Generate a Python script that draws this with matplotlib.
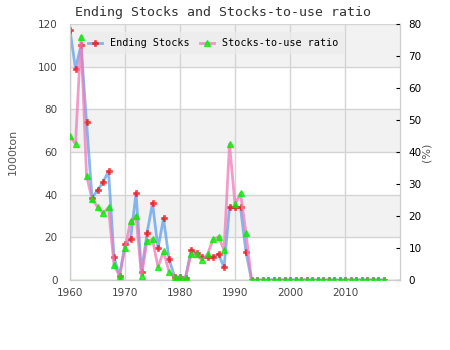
import matplotlib
matplotlib.use('Agg')
import matplotlib.pyplot as plt

# dados (1960-2017)
anos = list(range(1960, 2018))
estoque = [117, 99, 110, 74, 38.5, 42, 45.8, 51, 10.6, 1.9,
           16.7, 19, 40.6, 3.9, 22, 36, 14.8, 28.9, 9.8, 1.6,
           1.4, 1.1, 14, 12.5, 10.6, 10.6, 10.6, 12.2, 5.9, 34,
           34, 34, 13, 0, 0, 0, 0, 0, 0, 0,
           0, 0, 0, 0, 0, 0, 0, 0, 0, 0,
           0, 0, 0, 0, 0, 0, 0, 0]
razao = [45, 42.5, 76, 32.6, 25.3, 22.9, 20.8, 22.7, 4.6, 1.3,
         9.9, 18.3, 19.9, 1.3, 12.2, 12.7, 4.0, 9.0, 2.6, 0.9,
         0.9, 0.7, 8.0, 8.0, 6.25, 8.0, 12.7, 13.5, 9.4, 42.5,
         23.6, 27.1, 14.6, 0, 0, 0, 0, 0, 0, 0,
         0, 0, 0, 0, 0, 0, 0, 0, 0, 0,
         0, 0, 0, 0, 0, 0, 0, 0]
anos_ticks = [1960, 1970, 1980, 1990, 2000, 2010]
mono = 'DejaVu Sans Mono'

fig = plt.figure(figsize=(4.5, 3.5), dpi=100)
ax = fig.add_axes([0.1556, 0.2, 0.7333, 0.7314])
ax2 = ax.twinx()

# faixas alternadas no fundo
for y0 in (20, 60, 100):
    ax.axhspan(y0, y0 + 20, color='#f2f2f2', zorder=0, lw=0)
ax.set_axisbelow(True)
ax.grid(True, color='#d4d4d4', lw=1)

l1, = ax.plot(anos, estoque, color='#5fa0ec', alpha=0.75, lw=2.0,
              marker='P', ms=4, mfc='red', mec='red', mew=0.4,
              label='Ending Stocks', zorder=3)
l2, = ax2.plot(anos, razao, color='#f07ab8', alpha=0.75, lw=2.0,
               marker='^', ms=5, mfc='#00ee00', mec='#00ee00',
               label='Stocks-to-use ratio', zorder=3)
ax.axhline(0, color='#9be89b', lw=1, zorder=2)

ax.set_xlim(1960, 2020)
ax.set_ylim(0, 120)
ax2.set_ylim(0, 80)
ax.set_xticks(anos_ticks)
ax.set_yticks(range(0, 121, 20))
ax2.set_yticks(range(0, 81, 10))

ax.tick_params(axis='y', length=0, labelsize=7.5, labelcolor='#444444', pad=9)
ax.tick_params(axis='x', length=0, labelsize=7.5, labelcolor='#444444', pad=6)
ax2.tick_params(axis='y', direction='in', length=3, color='black',
                labelsize=7.5, labelcolor='black', pad=6)
for a in (ax, ax2):
    for s in a.spines.values():
        s.set_color('#cccccc')
    a.spines['top'].set_visible(False)

ax.set_ylabel('1000ton', fontsize=8, color='#555555', labelpad=14)
ax2.set_ylabel('(%)', fontsize=8, color='#555555', labelpad=0)

fig.text(0.495, 0.965, 'Ending Stocks and Stocks-to-use ratio', ha='center', va='center',
         family=mono, fontsize=9.5, color='#333333')

# legenda atras das linhas
leg = ax.legend([l1, l2], ['Ending Stocks', 'Stocks-to-use ratio'], ncol=2,
                loc='upper left', bbox_to_anchor=(0.021, 0.988), frameon=True,
                prop={'family': mono, 'size': 7.3}, handlelength=1.4,
                columnspacing=1.0, borderpad=0.6, fancybox=False)
leg.get_frame().set_facecolor('#ececec')
leg.get_frame().set_edgecolor('none')
leg.get_frame().set_alpha(0.7)
leg.set_zorder(1)

fig.savefig('out.png', dpi=100)
